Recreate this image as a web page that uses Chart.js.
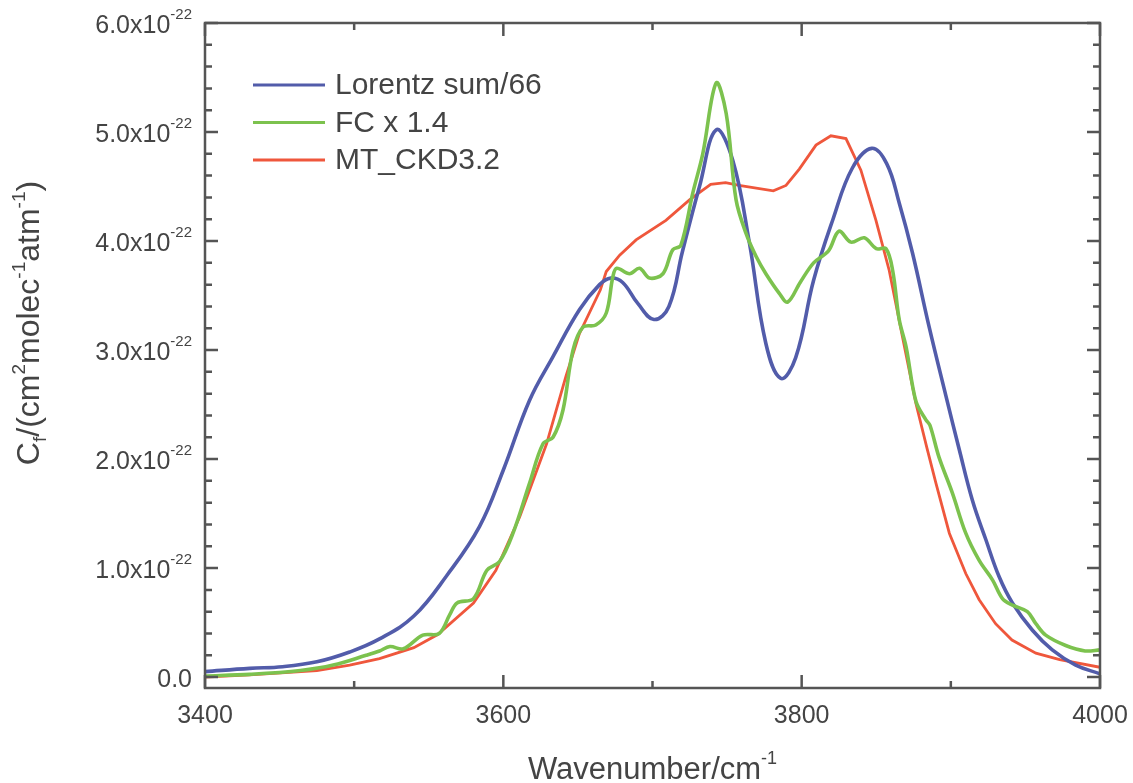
<!DOCTYPE html>
<html>
<head>
<meta charset="utf-8">
<script src="https://cdn.jsdelivr.net/npm/chart.js@4/dist/chart.umd.min.js"></script>
<style>
  html, body { margin: 0; padding: 0; background: #fff; }
  #wrap { width: 1133px; height: 783px; }
</style>
</head>
<body>
<div id="wrap"><canvas id="c" width="1133" height="783"></canvas></div>
<script>
// ---- Data (values in units of 1e-22 cm^2 molec^-1 atm^-1) ----
const seriesLabels = ['Lorentz sum/66', 'FC x 1.4', 'MT_CKD3.2'];

const lorentzX = [3400, 3430, 3452, 3475, 3497, 3517, 3540, 3562, 3584, 3600, 3617.6, 3633.3, 3651, 3664.5, 3672, 3680, 3690, 3701, 3711, 3720, 3731.5, 3742.7, 3753.8, 3765, 3776, 3786, 3796, 3808, 3821, 3834, 3847, 3857, 3865.4, 3874.3, 3885.5, 3896.7, 3905.6, 3914.5, 3923.5, 3932.4, 3941.3, 3954.7, 3968, 3983.7, 4000];
const lorentzY = [0.05, 0.08, 0.095, 0.14, 0.23, 0.35, 0.56, 0.93, 1.38, 1.90, 2.54, 2.94, 3.37, 3.60, 3.66, 3.62, 3.43, 3.28, 3.40, 3.90, 4.50, 5.02, 4.74, 3.98, 3.06, 2.74, 2.93, 3.64, 4.20, 4.67, 4.85, 4.71, 4.35, 3.89, 3.21, 2.58, 2.09, 1.62, 1.26, 0.92, 0.68, 0.43, 0.25, 0.11, 0.03];

const fcX = [3400, 3430, 3464, 3486, 3508, 3517, 3524, 3533, 3546, 3557, 3564, 3569, 3580, 3589, 3597.5, 3606.5, 3617.6, 3626.6, 3633.3, 3640, 3646.7, 3653.4, 3662, 3669, 3673.4, 3676, 3684.6, 3691.3, 3698, 3707, 3713.6, 3719, 3727, 3733.7, 3742.7, 3749.4, 3756, 3762.7, 3769.4, 3776, 3785, 3790.6, 3799, 3808, 3818, 3825, 3833, 3842, 3850, 3856.5, 3861, 3865.4, 3870, 3876.6, 3883.3, 3886, 3892, 3901, 3910, 3919, 3928, 3934.6, 3941.3, 3951.3, 3957, 3963.6, 3977, 3990, 4000];
const fcY = [0.01, 0.025, 0.06, 0.11, 0.20, 0.24, 0.28, 0.26, 0.385, 0.40, 0.57, 0.68, 0.72, 0.98, 1.06, 1.32, 1.78, 2.14, 2.20, 2.45, 3.00, 3.21, 3.23, 3.34, 3.67, 3.75, 3.70, 3.75, 3.66, 3.70, 3.92, 3.96, 4.44, 4.80, 5.45, 5.17, 4.38, 4.07, 3.86, 3.70, 3.52, 3.44, 3.62, 3.80, 3.91, 4.09, 3.99, 4.03, 3.93, 3.93, 3.73, 3.28, 3.03, 2.53, 2.36, 2.31, 2.02, 1.69, 1.32, 1.07, 0.89, 0.72, 0.66, 0.60, 0.49, 0.385, 0.29, 0.24, 0.25];

const ckdX = [3400, 3430, 3475, 3497, 3517, 3540, 3556, 3580, 3595, 3611, 3629, 3642, 3651, 3665, 3669, 3678, 3689, 3709, 3725, 3739, 3749, 3758, 3781, 3789.5, 3798.4, 3809.6, 3819.6, 3829.7, 3839.7, 3849.8, 3858.7, 3867.6, 3876.6, 3884, 3890, 3899, 3910, 3919, 3930, 3941, 3957, 3973, 4000];
const ckdY = [0.00, 0.02, 0.06, 0.11, 0.17, 0.27, 0.39, 0.68, 0.98, 1.47, 2.14, 2.76, 3.15, 3.55, 3.72, 3.87, 4.01, 4.19, 4.38, 4.52, 4.535, 4.51, 4.46, 4.51, 4.66, 4.88, 4.965, 4.94, 4.65, 4.19, 3.73, 3.12, 2.51, 2.10, 1.78, 1.32, 0.95, 0.71, 0.49, 0.34, 0.22, 0.16, 0.09];

// ---- Ticks ----
const xMajorTicks = [3400, 3600, 3800, 4000];
const xMinorTicks = [3500, 3700, 3900];
const xTickLabels = ['3400', '3600', '3800', '4000'];
const yMajorTicks = [0, 1, 2, 3, 4, 5, 6];
const yTickMantissas = ['0.0', '1.0x10', '2.0x10', '3.0x10', '4.0x10', '5.0x10', '6.0x10'];
const yTickExponents = ['', '-22', '-22', '-22', '-22', '-22', '-22'];
const yMinorStep = 0.2;

const colors = ['#525caa', '#7cc24e', '#ef573c'];
const FONT = '"Liberation Sans", Arial, Helvetica, sans-serif';
const TXT = '#444444';
const AX = '#555555';

function pts(xs, ys) { return xs.map((x, i) => ({ x: x, y: ys[i] })); }

function drawRich(ctx, segs, x, y, align) {
  let total = 0;
  const ws = segs.map(s => { ctx.font = s.size + 'px ' + FONT; const w = ctx.measureText(s.t).width; total += w; return w; });
  let cx = align === 'right' ? x - total : (align === 'center' ? x - total / 2 : x);
  ctx.textAlign = 'left';
  ctx.textBaseline = 'alphabetic';
  segs.forEach((s, i) => {
    ctx.font = s.size + 'px ' + FONT;
    ctx.fillText(s.t, cx, y + (s.dy || 0));
    cx += ws[i];
  });
}

const decor = {
  id: 'decor',
  afterDraw(chart) {
    const ctx = chart.ctx;
    const a = chart.chartArea;
    const xs = chart.scales.x, ys = chart.scales.y;
    ctx.save();
    ctx.strokeStyle = AX;
    ctx.lineWidth = 2.5;
    ctx.strokeRect(a.left, a.top, a.right - a.left, a.bottom - a.top);
    const MAJ = 13, MIN = 7;
    ctx.beginPath();
    xMajorTicks.concat(xMinorTicks).forEach(v => {
      const len = xMajorTicks.includes(v) ? MAJ : MIN;
      const px = xs.getPixelForValue(v);
      ctx.moveTo(px, a.bottom); ctx.lineTo(px, a.bottom - len);
      ctx.moveTo(px, a.top); ctx.lineTo(px, a.top + len);
    });
    for (let k = 0; k <= 30; k++) {
      const v = Math.round(k * yMinorStep * 10) / 10;
      const len = (Math.abs(v - Math.round(v)) < 1e-6) ? MAJ : MIN;
      const py = ys.getPixelForValue(v);
      ctx.moveTo(a.left, py); ctx.lineTo(a.left + len, py);
      ctx.moveTo(a.right, py); ctx.lineTo(a.right - len, py);
    }
    ctx.stroke();

    ctx.fillStyle = TXT;
    xMajorTicks.forEach((v, i) => {
      drawRich(ctx, [{ t: xTickLabels[i], size: 25 }], xs.getPixelForValue(v), a.bottom + 35, 'center');
    });
    yMajorTicks.forEach((v, i) => {
      const segs = [{ t: yTickMantissas[i], size: 25 }];
      if (yTickExponents[i]) segs.push({ t: yTickExponents[i], size: 15, dy: -14 });
      drawRich(ctx, segs, a.left - 13, ys.getPixelForValue(v) + 10, 'right');
    });
    drawRich(ctx, [{ t: 'Wavenumber/cm', size: 31 }, { t: '-1', size: 18, dy: -15 }], (a.left + a.right) / 2, 779, 'center');
    ctx.save();
    ctx.translate(39, 323);
    ctx.rotate(-Math.PI / 2);
    drawRich(ctx, [
      { t: 'C', size: 32 }, { t: 'f', size: 19, dy: 7 }, { t: '/(cm', size: 32 },
      { t: '2', size: 19, dy: -14 }, { t: 'molec', size: 32 }, { t: '-1', size: 19, dy: -14 },
      { t: 'atm', size: 32 }, { t: '-1', size: 19, dy: -14 }, { t: ')', size: 32 }
    ], 0, 0, 'center');
    ctx.restore();
    chart.data.datasets.forEach((ds, i) => {
      const ly = 85 + i * 37.5;
      ctx.strokeStyle = ds.borderColor;
      ctx.lineWidth = 3;
      ctx.beginPath(); ctx.moveTo(253, ly); ctx.lineTo(325, ly); ctx.stroke();
      ctx.fillStyle = TXT;
      ctx.font = '30px ' + FONT;
      ctx.textAlign = 'left';
      ctx.textBaseline = 'middle';
      ctx.fillText(ds.label, 335, ly + 1);
    });
    ctx.restore();
  }
};

new Chart(document.getElementById('c'), {
  type: 'line',
  data: {
    datasets: [
      { label: seriesLabels[0], data: pts(lorentzX, lorentzY), borderColor: colors[0], borderWidth: 3.6, pointRadius: 0, tension: 0.4, order: 1 },
      { label: seriesLabels[1], data: pts(fcX, fcY), borderColor: colors[1], borderWidth: 3.6, pointRadius: 0, tension: 0.35, order: 0 },
      { label: seriesLabels[2], data: pts(ckdX, ckdY), borderColor: colors[2], borderWidth: 2.8, pointRadius: 0, tension: 0, order: 2 }
    ]
  },
  options: {
    responsive: false,
    animation: false,
    layout: { padding: { left: 0, top: 23, right: 33, bottom: 0 } },
    plugins: { legend: { display: false }, tooltip: { enabled: false } },
    scales: {
      x: {
        type: 'linear', min: 3400, max: 4000,
        grid: { display: false }, border: { display: false },
        ticks: { display: false },
        afterBuildTicks: s => { s.ticks = xMajorTicks.map(v => ({ value: v })); },
        afterFit: s => { s.height = 95; }
      },
      y: {
        type: 'linear', min: -0.1, max: 6.0,
        grid: { display: false }, border: { display: false },
        ticks: { display: false },
        afterBuildTicks: s => { s.ticks = yMajorTicks.map(v => ({ value: v })); },
        afterFit: s => { s.width = 205; }
      }
    }
  },
  plugins: [decor]
});
</script>
</body>
</html>
